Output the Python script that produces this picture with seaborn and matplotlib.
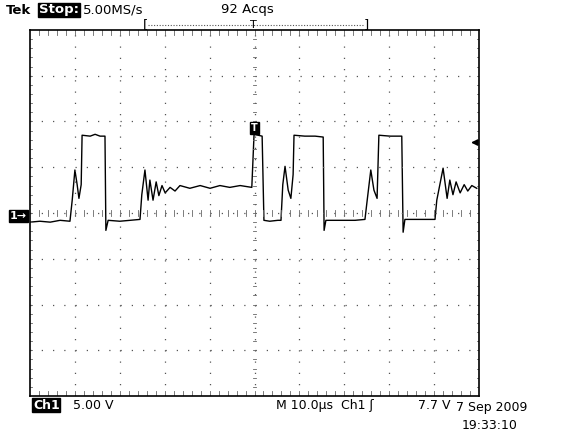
import numpy as np
import matplotlib
matplotlib.use("Agg")
import matplotlib.pyplot as plt
import seaborn as sns
import pandas as pd

# waveform: time in us, voltage in V (5 V/div, 10 us/div)
time_us = [0, 2.2, 4.5, 6.7, 8.9, 9.4, 10.0, 10.5, 10.9, 11.4, 11.6, 13.4, 14.5, 15.6, 16.7,
           16.9, 17.4, 20.0, 22.3, 24.5, 24.9, 25.6, 26.3, 26.7, 27.4, 28.1, 28.7, 29.4, 30.1,
           31.2, 32.3, 33.4, 35.6, 37.9, 40.1, 42.3, 44.5, 46.8, 49.4, 49.9, 51.7, 52.1, 53.4,
           55.2, 55.9, 56.3, 56.8, 57.5, 58.1, 58.6, 58.8, 61.2, 63.5, 65.3, 65.5, 65.9, 69.0,
           72.4, 74.6, 75.1, 75.9, 76.6, 77.3, 77.7, 80.2, 82.8, 83.1, 83.5, 86.9, 90.2, 90.6,
           92.0, 92.9, 93.5, 94.2, 94.9, 95.8, 96.7, 97.5, 98.4, 99.5]
volts = [-1.0, -0.9, -1.0, -0.8, -0.9, 1.4, 4.7, 3.1, 1.6, 3.1, 8.5, 8.4, 8.6, 8.4, 8.4,
         -1.9, -0.8, -0.9, -0.8, -0.7, 2.0, 4.7, 1.4, 3.6, 1.4, 3.4, 1.9, 3.0, 2.2,
         2.8, 2.4, 3.0, 2.7, 3.0, 2.7, 3.0, 2.8, 3.0, 2.8, 8.6, 8.4, -0.8, -0.9,
         -0.8, -0.8, 3.1, 5.1, 2.5, 1.6, 4.2, 8.5, 8.4, 8.4, 8.3, -1.9, -0.8, -0.8,
         -0.8, -0.7, 1.4, 4.7, 2.5, 1.6, 8.5, 8.4, 8.4, -2.1, -0.7, -0.7, -0.7, 1.4,
         4.9, 1.6, 3.6, 2.0, 3.4, 2.2, 3.1, 2.4, 3.0, 2.7]
trigger_level = 7.7

W, H = 567, 436
fig = plt.figure(figsize=(W / 100, H / 100), dpi=100)
fig.patch.set_facecolor("white")
ax = fig.add_axes([30 / W, (H - 396) / H, 449 / W, 366 / H])
sns.lineplot(data=pd.DataFrame({"t": time_us, "v": volts}), x="t", y="v",
             ax=ax, color="black", linewidth=1.0, sort=False)
ax.set_xlim(0, 100)
ax.set_ylim(-20, 20)
ax.set_xticks([]); ax.set_yticks([])
ax.set_xlabel(""); ax.set_ylabel("")
for s in ax.spines.values():
    s.set_color("black"); s.set_linewidth(1.2)

# graticule
dot = dict(color="#555555", linestyle=(0, (1, 8)), linewidth=0.9)
for x in range(10, 100, 10):
    ax.axvline(x, **dot)
for y in range(-15, 20, 5):
    ax.axhline(y, **dot)
tk = dict(color="#666666", lw=0.6)
for x in np.arange(2, 100, 2):
    ax.plot([x, x], [-0.35, 0.35], **tk)
    ax.plot([x, x], [19.5, 20], **tk)
    ax.plot([x, x], [-20, -19.5], **tk)
for y in np.arange(-19, 20, 1):
    ax.plot([49.6, 50.4], [y, y], **tk)
    ax.plot([0, 0.5], [y, y], **tk)
    ax.plot([99.5, 100], [y, y], **tk)

# markers
ax.annotate("", xy=(97.6, trigger_level), xytext=(99.8, trigger_level),
            arrowprops=dict(arrowstyle="-|>", color="black", lw=1.2, mutation_scale=9))
ax.text(50, 9.3, "T", ha="center", va="center", color="white", fontsize=7, fontweight="bold",
        bbox=dict(boxstyle="square,pad=0.1", fc="black", ec="black"))

fs = 9.5
fig.text(10 / W, 1 - 216 / H, "1→", color="white", fontsize=8, fontweight="bold", va="center",
         bbox=dict(boxstyle="square,pad=0.1", fc="black", ec="black"))
fig.text(6 / W, 1 - 10 / H, "Tek", fontsize=fs, fontweight="bold", va="center")
fig.text(39 / W, 1 - 10 / H, "Stop:", fontsize=fs, fontweight="bold", color="white", va="center",
         bbox=dict(boxstyle="square,pad=0.05", fc="black", ec="black"))
fig.text(83 / W, 1 - 10 / H, "5.00MS/s", fontsize=fs, va="center")
fig.text(221 / W, 1 - 10 / H, "92 Acqs", fontsize=fs, va="center")
fig.text(143 / W, 1 - 25 / H, "[", fontsize=fs, va="center")
fig.text(364 / W, 1 - 25 / H, "]", fontsize=fs, va="center")
fig.text(253 / W, 1 - 25 / H, "T", fontsize=8, va="center", ha="center")
fig.add_artist(plt.Line2D([148 / W, 364 / W], [1 - 25 / H] * 2, color="#555555",
                          linestyle=(0, (1, 1.5)), lw=0.8))
fs2 = 9
fig.text(33 / W, 1 - 405 / H, "Ch1", fontsize=fs2, fontweight="bold", color="white", va="center",
         bbox=dict(boxstyle="square,pad=0.05", fc="black", ec="black"))
fig.text(73 / W, 1 - 405 / H, "5.00 V", fontsize=fs2, va="center")
fig.text(276 / W, 1 - 405 / H, "M 10.0µs  Ch1 ʃ", fontsize=fs2, va="center")
fig.text(451 / W, 1 - 405 / H, "7.7 V", fontsize=fs2, va="center", ha="right")
fig.text(456 / W, 1 - 407 / H, "7 Sep 2009", fontsize=fs2, va="center")
fig.text(462 / W, 1 - 425 / H, "19:33:10", fontsize=fs2, va="center")

fig.savefig("out.png", dpi=100, facecolor="white")
